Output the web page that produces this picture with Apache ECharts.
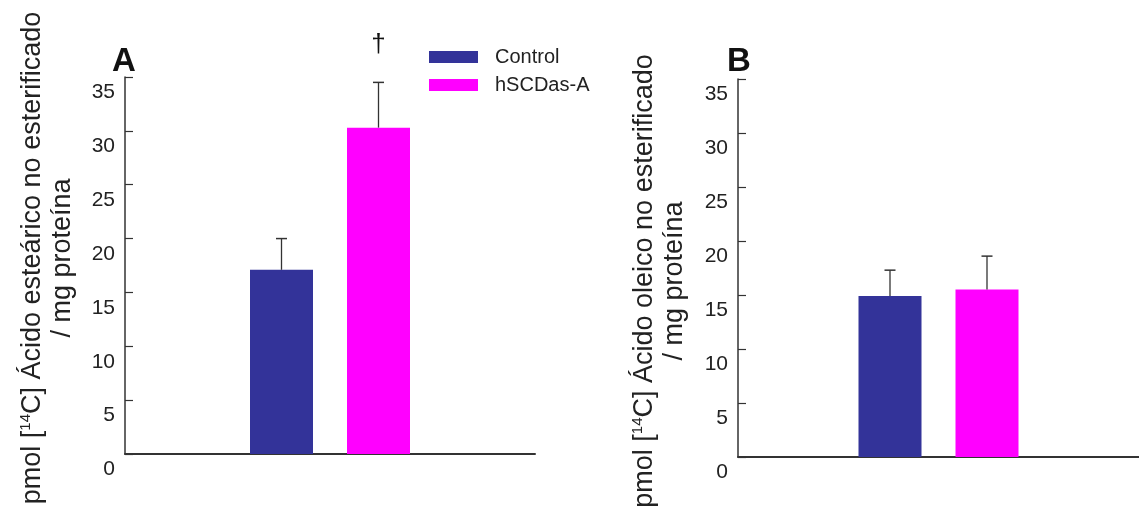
<!DOCTYPE html>
<html>
<head>
<meta charset="utf-8">
<script src="https://cdn.jsdelivr.net/npm/echarts@6/dist/echarts.min.js"></script>
<style>
html,body{margin:0;padding:0;background:#fff;}
#chart{width:1139px;height:506px;}
</style>
</head>
<body>
<div id="chart"></div>
<script>
// ---- data ----
const seriesNames = ['Control', 'hSCDas-A'];
const categories = [''];
const panelA_mean = [17.1, 30.3];
const panelA_err  = [20.0, 34.5];   // top of error bar
const panelB_mean = [14.9, 15.5];
const panelB_err  = [17.3, 18.6];
const panelA_mark = ['', '†'];
const yTicks = [0, 5, 10, 15, 20, 25, 30, 35];

// ---- style ----
const colors = ['#333399', '#FF00FF'];
const FONT = '"Liberation Sans", Arial, sans-serif';
const BAR_W = 63, BAR_GAP = 34;
const axisColor = '#333';

const chart = echarts.init(document.getElementById('chart'));

function yAxisCfg(gridIndex) {
  return {
    type: 'value', gridIndex: gridIndex, min: yTicks[0], max: yTicks[yTicks.length - 1], interval: 5,
    axisLine: {show: true, lineStyle: {color: axisColor, width: 1.5}},
    axisTick: {show: true, inside: true, length: 8, lineStyle: {color: axisColor, width: 1.2}},
    splitLine: {show: false},
    axisLabel: {fontFamily: FONT, fontSize: 21, color: '#222', margin: 10, verticalAlign: 'top', padding: [5, 0, 0, 0]}
  };
}
function xAxisCfg(gridIndex) {
  return {
    type: 'category', gridIndex: gridIndex, data: categories,
    axisLine: {show: true, onZero: false, lineStyle: {color: axisColor, width: 2}},
    axisTick: {show: false}, axisLabel: {show: false}
  };
}

function errSeries(name, idx, gridIdx, errTop, mean, marks) {
  const offset = (idx === 0 ? -1 : 1) * (BAR_W + BAR_GAP) / 2;
  return {
    type: 'custom', name: name, xAxisIndex: gridIdx, yAxisIndex: gridIdx, silent: true, z: 5,
    data: categories.map((c, i) => [i, mean[idx], errTop[idx]]),
    renderItem: function (params, api) {
      const base = api.coord([api.value(0), api.value(1)]);
      const top = api.coord([api.value(0), api.value(2)]);
      const x = base[0] + offset;
      const children = [
        {type: 'line', shape: {x1: x, y1: base[1], x2: x, y2: top[1]}, style: {stroke: axisColor, lineWidth: 1.3}},
        {type: 'line', shape: {x1: x - 5.5, y1: top[1], x2: x + 5.5, y2: top[1]}, style: {stroke: axisColor, lineWidth: 1.5}}
      ];
      const mk = marks ? marks[idx] : '';
      if (mk) {
        children.push({type: 'text', x: x, y: top[1] - 38,
          style: {text: mk, font: '26px ' + FONT, fill: '#111', align: 'center', verticalAlign: 'middle'}});
      }
      return {type: 'group', children: children};
    }
  };
}

function barSeries(name, idx, gridIdx, mean) {
  return {
    type: 'bar', name: name, xAxisIndex: gridIdx, yAxisIndex: gridIdx,
    data: categories.map(() => mean[idx]),
    barWidth: BAR_W, barGap: (BAR_GAP / BAR_W * 100) + '%',
    itemStyle: {color: colors[idx]}, silent: true
  };
}

const titleRich = {
  a: {fontSize: 27, fontFamily: FONT, fill: '#222', lineHeight: 30},
  s: {fontSize: 15, fontFamily: FONT, fill: '#222', lineHeight: 30, verticalAlign: 'top', padding: [0, 0, 8, 0]}
};
function titleGraphic(x, y, acid) {
  return {
    type: 'text', x: x, y: y, rotation: Math.PI / 2,
    style: {
      text: '{a|pmol [}{s|14}{a|C] Ácido ' + acid + ' no esterificado}\n{a|/ mg proteína}',
      rich: titleRich, align: 'center', verticalAlign: 'middle', fill: '#222', font: '27px ' + FONT
    }
  };
}

chart.setOption({
  backgroundColor: '#fff',
  animation: false,
  grid: [
    {left: 125, right: 604, top: 77, bottom: 52},
    {left: 738, right: 0, top: 79, bottom: 49}
  ],
  xAxis: [xAxisCfg(0), xAxisCfg(1)],
  yAxis: [yAxisCfg(0), yAxisCfg(1)],
  legend: {
    data: seriesNames, orient: 'vertical', left: 429, top: 47, padding: 0, icon: 'rect',
    itemWidth: 49, itemHeight: 12, itemGap: 8,
    textStyle: {fontFamily: FONT, fontSize: 20, color: '#222', padding: [0, 0, 0, 12], lineHeight: 20}
  },
  graphic: [
    {type: 'text', left: 112, top: 45, style: {text: 'A', font: 'bold 33px ' + FONT, fill: '#111'}},
    {type: 'text', left: 727, top: 45, style: {text: 'B', font: 'bold 33px ' + FONT, fill: '#111'}},
    titleGraphic(48, 258, 'esteárico'),
    titleGraphic(660, 281, 'oleico')
  ],
  series: [
    barSeries(seriesNames[0], 0, 0, panelA_mean),
    barSeries(seriesNames[1], 1, 0, panelA_mean),
    errSeries(seriesNames[0], 0, 0, panelA_err, panelA_mean, panelA_mark),
    errSeries(seriesNames[1], 1, 0, panelA_err, panelA_mean, panelA_mark),
    barSeries(seriesNames[0], 0, 1, panelB_mean),
    barSeries(seriesNames[1], 1, 1, panelB_mean),
    errSeries(seriesNames[0], 0, 1, panelB_err, panelB_mean, null),
    errSeries(seriesNames[1], 1, 1, panelB_err, panelB_mean, null)
  ]
});
</script>
</body>
</html>
